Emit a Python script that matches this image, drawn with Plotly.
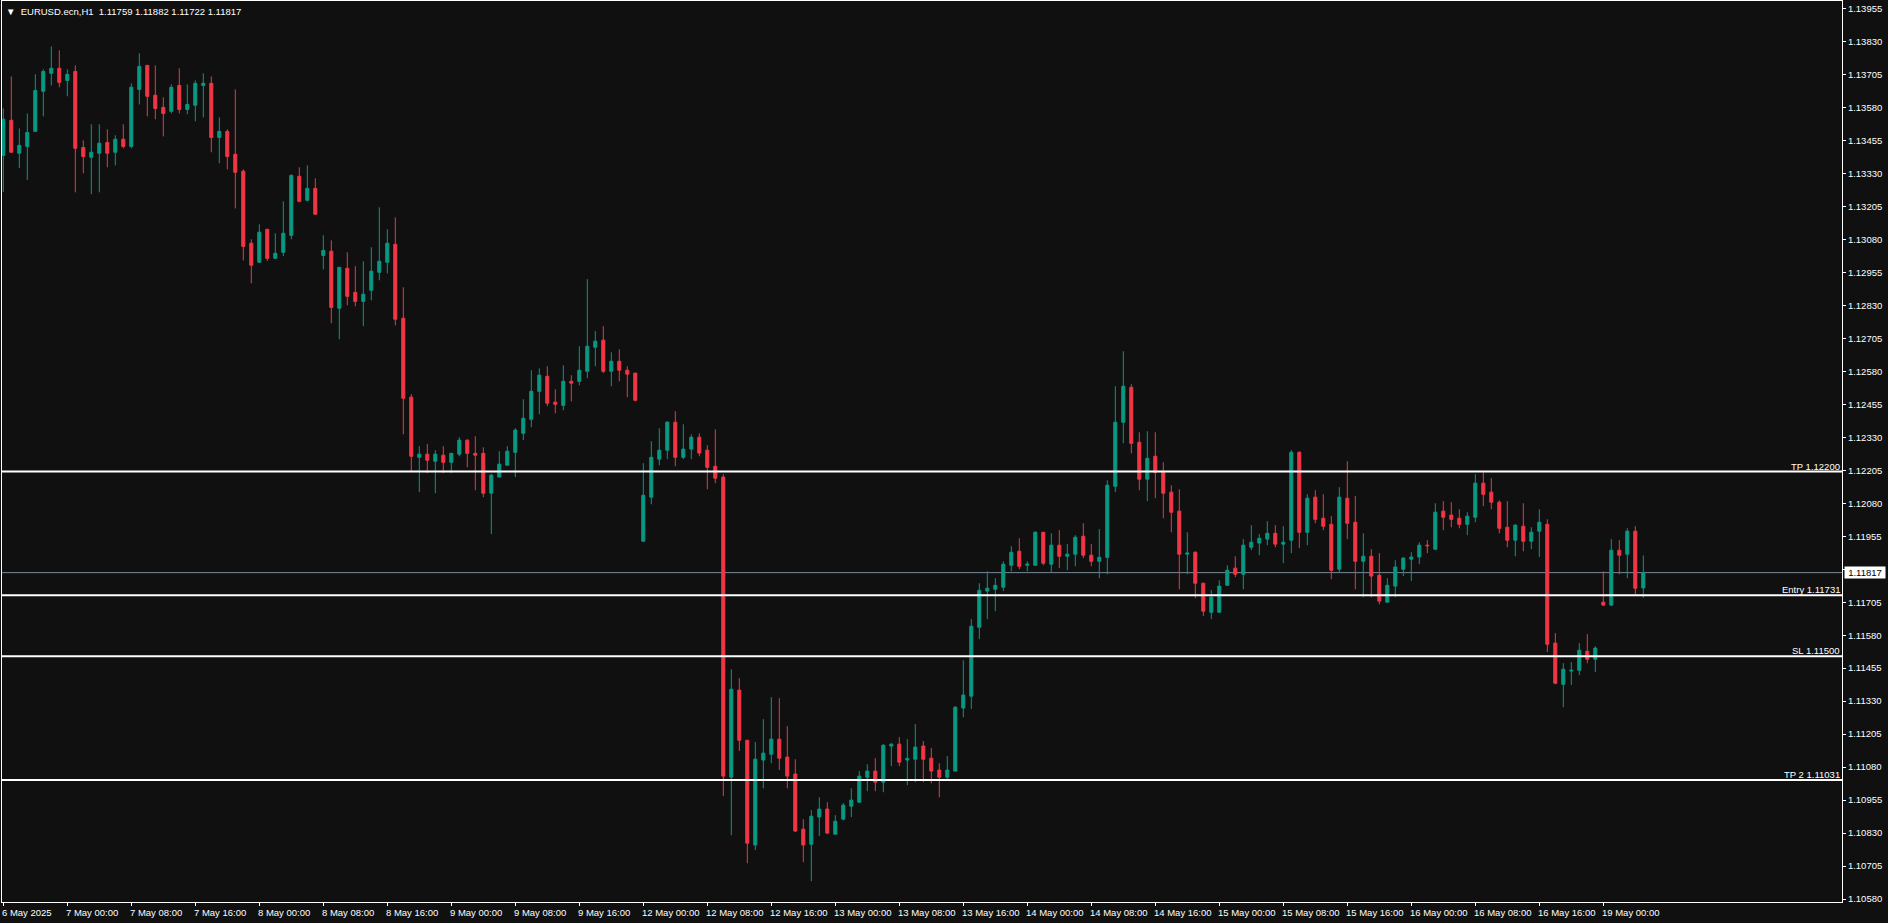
import plotly.graph_objects as go

# ---- data (EURUSD H1, 6 May 16:00 -> 19 May 05:00, weekends skipped) ----
opens = [
    1.13398, 1.13531, 1.13406, 1.13432, 1.13489, 1.13641, 1.13709, 1.13728, 1.13682, 1.13716,
    1.13428, 1.13391, 1.13406, 1.13447, 1.13410, 1.13459, 1.13432, 1.13648, 1.13739, 1.13626,
    1.13580, 1.13565, 1.13663, 1.13572, 1.13588, 1.13663, 1.13671, 1.13466, 1.13489, 1.13402,
    1.13338, 1.13065, 1.12993, 1.13118, 1.13008, 1.13031, 1.13095, 1.13319, 1.13228, 1.13273,
    1.13019, 1.13035, 1.12819, 1.12970, 1.12879, 1.12845, 1.12887, 1.12955, 1.12993, 1.13061,
    1.12781, 1.12482, 1.12254, 1.12266, 1.12239, 1.12262, 1.12235, 1.12266, 1.12319, 1.12269,
    1.12269, 1.12118, 1.12179, 1.12224, 1.12273, 1.12345, 1.12398, 1.12504, 1.12561, 1.12463,
    1.12451, 1.12542, 1.12542, 1.12580, 1.12671, 1.12698, 1.12580, 1.12618, 1.12584, 1.12573,
    1.11936, 1.12103, 1.12247, 1.12281, 1.12387, 1.12254, 1.12285, 1.12330, 1.12281, 1.12220,
    1.12179, 1.11042, 1.11372, 1.11182, 1.10785, 1.11107, 1.11129, 1.11186, 1.11118, 1.11054,
    1.10845, 1.10788, 1.10891, 1.10921, 1.10826, 1.10883, 1.10932, 1.10947, 1.11042, 1.11065,
    1.11023, 1.11160, 1.11167, 1.11107, 1.11110, 1.11160, 1.11114, 1.11069, 1.11042, 1.11065,
    1.11304, 1.11349, 1.11610, 1.11747, 1.11754, 1.11762, 1.11845, 1.11898, 1.11845, 1.11845,
    1.11970, 1.11849, 1.11921, 1.11879, 1.11887, 1.11955, 1.11883, 1.11860, 1.11875, 1.12144,
    1.12387, 1.12519, 1.12311, 1.12171, 1.12258, 1.12197, 1.12122, 1.12050, 1.11887, 1.11894,
    1.11777, 1.11667, 1.11667, 1.11769, 1.11834, 1.11811, 1.11913, 1.11929, 1.11944, 1.11966,
    1.11925, 1.11940, 1.12273, 1.11970, 1.12103, 1.12023, 1.12000, 1.11830, 1.12099, 1.12008,
    1.11860, 1.11879, 1.11807, 1.11705, 1.11766, 1.11830, 1.11868, 1.11876, 1.11921, 1.11906,
    1.12050, 1.12035, 1.12023, 1.12000, 1.12027, 1.12156, 1.12122, 1.12084, 1.11989, 1.11940,
    1.11993, 1.11936, 1.11974, 1.12000, 1.11550, 1.11394, 1.11444, 1.11447, 1.11519, 1.11489,
    1.11705, 1.11694, 1.11902, 1.11887, 1.11974, 1.11759,
]
highs = [
    1.13576, 1.13697, 1.13500, 1.13557, 1.13705, 1.13724, 1.13811, 1.13796, 1.13724, 1.13739,
    1.13455, 1.13516, 1.13516, 1.13497, 1.13474, 1.13516, 1.13671, 1.13785, 1.13739, 1.13739,
    1.13618, 1.13667, 1.13728, 1.13667, 1.13682, 1.13709, 1.13697, 1.13542, 1.13497, 1.13648,
    1.13345, 1.13080, 1.13137, 1.13118, 1.13103, 1.13224, 1.13326, 1.13353, 1.13360, 1.13311,
    1.13095, 1.13076, 1.12974, 1.13031, 1.12978, 1.12997, 1.13050, 1.13201, 1.13118, 1.13163,
    1.12898, 1.12493, 1.12296, 1.12304, 1.12281, 1.12296, 1.12269, 1.12330, 1.12322, 1.12334,
    1.12292, 1.12192, 1.12277, 1.12296, 1.12364, 1.12474, 1.12584, 1.12591, 1.12599, 1.12512,
    1.12603, 1.12565, 1.12675, 1.12929, 1.12732, 1.12751, 1.12652, 1.12663, 1.12599, 1.12573,
    1.12232, 1.12315, 1.12364, 1.12391, 1.12429, 1.12379, 1.12341, 1.12345, 1.12300, 1.12360,
    1.12190, 1.11451, 1.11417, 1.11182, 1.11175, 1.11262, 1.11345, 1.11341, 1.11235, 1.11110,
    1.10883, 1.10917, 1.10966, 1.10947, 1.10898, 1.10944, 1.11000, 1.11065, 1.11091, 1.11114,
    1.11167, 1.11171, 1.11194, 1.11186, 1.11243, 1.11179, 1.11152, 1.11095, 1.11122, 1.11311,
    1.11485, 1.11641, 1.11777, 1.11822, 1.11796, 1.11860, 1.11917, 1.11947, 1.11860, 1.11974,
    1.11970, 1.11966, 1.11978, 1.11925, 1.11959, 1.12004, 1.11925, 1.11982, 1.12167, 1.12523,
    1.12656, 1.12531, 1.12349, 1.12353, 1.12349, 1.12235, 1.12148, 1.12133, 1.11970, 1.11898,
    1.11777, 1.11751, 1.11788, 1.11845, 1.11879, 1.11944, 1.11997, 1.11963, 1.12012, 1.11997,
    1.11993, 1.12281, 1.12277, 1.12114, 1.12129, 1.12114, 1.12031, 1.12141, 1.12239, 1.12107,
    1.11966, 1.11906, 1.11891, 1.11796, 1.11864, 1.11876, 1.11894, 1.11932, 1.11940, 1.12080,
    1.12088, 1.12084, 1.12057, 1.12046, 1.12190, 1.12197, 1.12175, 1.12091, 1.12088, 1.12000,
    1.12080, 1.11989, 1.12057, 1.12019, 1.11588, 1.11474, 1.11478, 1.11550, 1.11584, 1.11538,
    1.11822, 1.11944, 1.11940, 1.11985, 1.11993, 1.11882,
]
lows = [
    1.13259, 1.13407, 1.13350, 1.13305, 1.13489, 1.13546, 1.13663, 1.13656, 1.13622, 1.13258,
    1.13330, 1.13251, 1.13258, 1.13353, 1.13360, 1.13425, 1.13425, 1.13591, 1.13546, 1.13535,
    1.13470, 1.13557, 1.13557, 1.13554, 1.13527, 1.13542, 1.13410, 1.13368, 1.13345, 1.13197,
    1.13000, 1.12913, 1.12993, 1.12998, 1.13008, 1.13016, 1.13080, 1.13220, 1.13224, 1.13175,
    1.12966, 1.12762, 1.12701, 1.12830, 1.12826, 1.12751, 1.12849, 1.12925, 1.12951, 1.12754,
    1.12341, 1.12199, 1.12122, 1.12194, 1.12118, 1.12194, 1.12194, 1.12258, 1.12216, 1.12129,
    1.12103, 1.11963, 1.12179, 1.12224, 1.12179, 1.12319, 1.12368, 1.12417, 1.12448, 1.12421,
    1.12432, 1.12466, 1.12527, 1.12554, 1.12599, 1.12573, 1.12523, 1.12542, 1.12482, 1.12466,
    1.11936, 1.12076, 1.12224, 1.12247, 1.12220, 1.12247, 1.12247, 1.12258, 1.12133, 1.12156,
    1.10970, 1.10822, 1.11141, 1.10716, 1.10766, 1.11000, 1.11095, 1.11069, 1.11000, 1.10834,
    1.10720, 1.10648, 1.10819, 1.10826, 1.10826, 1.10879, 1.10891, 1.10947, 1.10989, 1.10989,
    1.10985, 1.11084, 1.11084, 1.11012, 1.11023, 1.11023, 1.11019, 1.10966, 1.11035, 1.11065,
    1.11269, 1.11300, 1.11565, 1.11641, 1.11671, 1.11747, 1.11822, 1.11830, 1.11822, 1.11845,
    1.11845, 1.11819, 1.11834, 1.11826, 1.11841, 1.11872, 1.11841, 1.11796, 1.11811, 1.12122,
    1.12307, 1.12269, 1.12129, 1.12088, 1.12099, 1.12023, 1.11970, 1.11754, 1.11811, 1.11720,
    1.11652, 1.11641, 1.11667, 1.11769, 1.11800, 1.11754, 1.11902, 1.11883, 1.11921, 1.11913,
    1.11853, 1.11891, 1.11910, 1.11921, 1.12004, 1.11978, 1.11792, 1.11819, 1.11944, 1.11754,
    1.11724, 1.11724, 1.11697, 1.11705, 1.11724, 1.11804, 1.11785, 1.11849, 1.11891, 1.11902,
    1.11978, 1.11989, 1.11985, 1.11959, 1.12008, 1.12069, 1.12057, 1.11966, 1.11913, 1.11879,
    1.11898, 1.11906, 1.11876, 1.11516, 1.11394, 1.11307, 1.11391, 1.11429, 1.11474, 1.11440,
    1.11690, 1.11690, 1.11811, 1.11796, 1.11735, 1.11722,
]
closes = [
    1.13535, 1.13410, 1.13436, 1.13485, 1.13644, 1.13716, 1.13728, 1.13675, 1.13705, 1.13425,
    1.13394, 1.13410, 1.13444, 1.13406, 1.13459, 1.13432, 1.13656, 1.13735, 1.13622, 1.13576,
    1.13557, 1.13656, 1.13572, 1.13591, 1.13671, 1.13671, 1.13466, 1.13489, 1.13394, 1.13334,
    1.13053, 1.12982, 1.13107, 1.13008, 1.13027, 1.13103, 1.13322, 1.13224, 1.13273, 1.13175,
    1.13038, 1.12822, 1.12974, 1.12864, 1.12845, 1.12872, 1.12959, 1.12997, 1.13065, 1.12777,
    1.12478, 1.12258, 1.12266, 1.12243, 1.12266, 1.12235, 1.12269, 1.12319, 1.12269, 1.12262,
    1.12118, 1.12186, 1.12228, 1.12277, 1.12357, 1.12402, 1.12504, 1.12565, 1.12459, 1.12455,
    1.12542, 1.12535, 1.12584, 1.12675, 1.12694, 1.12580, 1.12618, 1.12584, 1.12569, 1.12470,
    1.12110, 1.12254, 1.12281, 1.12387, 1.12254, 1.12285, 1.12330, 1.12270, 1.12216, 1.12175,
    1.11046, 1.11375, 1.11182, 1.10792, 1.11110, 1.11133, 1.11186, 1.11114, 1.11046, 1.10838,
    1.10785, 1.10894, 1.10921, 1.10830, 1.10875, 1.10936, 1.10955, 1.11046, 1.11065, 1.11023,
    1.11163, 1.11167, 1.11099, 1.11113, 1.11156, 1.11110, 1.11065, 1.11042, 1.11069, 1.11307,
    1.11353, 1.11614, 1.11750, 1.11758, 1.11769, 1.11849, 1.11894, 1.11841, 1.11849, 1.11970,
    1.11853, 1.11921, 1.11879, 1.11887, 1.11951, 1.11883, 1.11860, 1.11875, 1.12148, 1.12387,
    1.12523, 1.12307, 1.12171, 1.12250, 1.12197, 1.12118, 1.12046, 1.11887, 1.11891, 1.11777,
    1.11671, 1.11724, 1.11766, 1.11826, 1.11811, 1.11921, 1.11932, 1.11947, 1.11966, 1.11925,
    1.11932, 1.12273, 1.11970, 1.12099, 1.12019, 1.11993, 1.11826, 1.12103, 1.12004, 1.11860,
    1.11879, 1.11804, 1.11709, 1.11769, 1.11838, 1.11872, 1.11876, 1.11921, 1.11919, 1.12046,
    1.12027, 1.12019, 1.12000, 1.12031, 1.12156, 1.12114, 1.12084, 1.11985, 1.11940, 1.11997,
    1.11936, 1.11970, 1.12008, 1.11546, 1.11398, 1.11451, 1.11447, 1.11523, 1.11489, 1.11531,
    1.11694, 1.11902, 1.11883, 1.11974, 1.11758, 1.11817,
]
bar_index = list(range(len(opens)))

time_tick_bars = [0, 8, 16, 24, 32, 40, 48, 56, 64, 72, 80, 88, 96, 104, 112, 120, 128,
                  136, 144, 152, 160, 168, 176, 184, 192, 200]
time_tick_labels = [
    "6 May 2025", "7 May 00:00", "7 May 08:00", "7 May 16:00", "8 May 00:00", "8 May 08:00",
    "8 May 16:00", "9 May 00:00", "9 May 08:00", "9 May 16:00", "12 May 00:00", "12 May 08:00",
    "12 May 16:00", "13 May 00:00", "13 May 08:00", "13 May 16:00", "14 May 00:00",
    "14 May 08:00", "14 May 16:00", "15 May 00:00", "15 May 08:00", "15 May 16:00",
    "16 May 00:00", "16 May 08:00", "16 May 16:00", "19 May 00:00",
]
price_ticks = [1.13955, 1.13830, 1.13705, 1.13580, 1.13455, 1.13330, 1.13205, 1.13080,
               1.12955, 1.12830, 1.12705, 1.12580, 1.12455, 1.12330, 1.12205, 1.12080,
               1.11955, 1.11830, 1.11705, 1.11580, 1.11455, 1.11330, 1.11205, 1.11080,
               1.10955, 1.10830, 1.10705, 1.10580]
price_tick_labels = ["%.5f" % p for p in price_ticks]

level_names = ["TP", "Entry", "SL", "TP 2"]
level_prices = [1.12200, 1.11731, 1.11500, 1.11031]
bid_price = 1.11817
header = "\u25BC  EURUSD.ecn,H1  1.11759 1.11882 1.11722 1.11817"

BG = "#101010"
UP = "#089981"
DOWN = "#F23645"
FONT = "Liberation Sans, Arial, sans-serif"

fig = go.Figure()
fig.add_trace(go.Candlestick(
    x=bar_index, open=opens, high=highs, low=lows, close=closes,
    increasing=dict(line=dict(color=UP, width=1), fillcolor=UP),
    decreasing=dict(line=dict(color=DOWN, width=1), fillcolor=DOWN),
    whiskerwidth=0, hoverinfo="skip", showlegend=False,
))

shapes = []
for p in level_prices:
    shapes.append(dict(type="line", xref="paper", x0=0, x1=1, yref="y", y0=p, y1=p,
                       line=dict(color="white", width=2), layer="above"))
shapes.append(dict(type="line", xref="paper", x0=0, x1=1, yref="y", y0=bid_price, y1=bid_price,
                   line=dict(color="#77889a", width=1), layer="below"))

annotations = []
for name, p in zip(level_names, level_prices):
    annotations.append(dict(xref="paper", x=1, yref="y", y=p, xanchor="right", yanchor="bottom",
                            text="%s %.5f" % (name, p), showarrow=False, xshift=-1, yshift=-1,
                            font=dict(family=FONT, size=9.5, color="white"), borderpad=0))
for k, lab in zip(time_tick_bars, time_tick_labels):
    annotations.append(dict(xref="x", x=k, yref="paper", y=0, xanchor="left", yanchor="middle",
                            text=lab, showarrow=False, xshift=-2, yshift=-10,
                            font=dict(family=FONT, size=9.5, color="white"), borderpad=0))
annotations.append(dict(xref="paper", x=1, yref="y", y=bid_price, xanchor="left", yanchor="middle",
                        text=f"{bid_price:.5f}", showarrow=False, xshift=2, width=40,
                        bgcolor="white", font=dict(family=FONT, size=9.5, color="black"),
                        borderpad=0))
annotations.append(dict(xref="paper", x=0, yref="paper", y=1, xanchor="left", yanchor="top",
                        text=header, showarrow=False, xshift=3, yshift=-4,
                        font=dict(family=FONT, size=9.5, color="white"), borderpad=0))

fig.update_layout(
    width=1888, height=923,
    margin=dict(l=2, r=46, t=1, b=21),
    paper_bgcolor=BG, plot_bgcolor=BG,
    boxgap=0.45,
    shapes=shapes, annotations=annotations,
    showlegend=False,
    xaxis=dict(range=[-0.1625, 229.8375], showgrid=False, zeroline=False,
               rangeslider=dict(visible=False), showline=True, mirror=True,
               linecolor="white", linewidth=1, ticks="outside", ticklen=3,
               tickcolor="white", tickvals=time_tick_bars, showticklabels=False,
               fixedrange=True),
    yaxis=dict(range=[1.10569, 1.13983], side="right", showgrid=False, zeroline=False,
               showline=True, mirror=True, linecolor="white", linewidth=1,
               ticks="outside", ticklen=3, tickcolor="white",
               tickvals=price_ticks, ticktext=price_tick_labels,
               tickfont=dict(family=FONT, size=9.5, color="white"), fixedrange=True),
)

fig.write_html("out.html", config={"displayModeBar": False},
               post_script="document.body.style.margin='0';document.body.style.overflow='hidden';")
